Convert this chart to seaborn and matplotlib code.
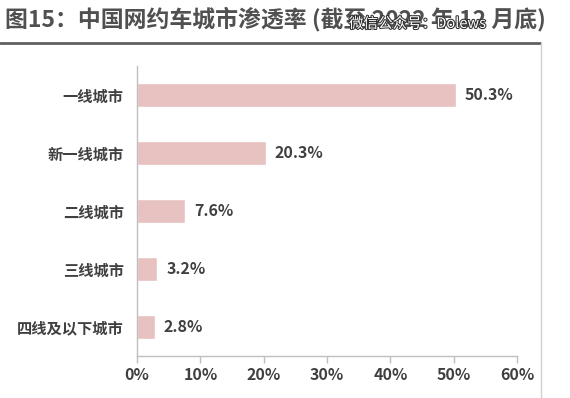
import matplotlib.pyplot as plt
import seaborn as sns
from matplotlib import patheffects

cities = ['一线城市', '新一线城市', '二线城市', '三线城市', '四线及以下城市']
rates = [50.3, 20.3, 7.6, 3.2, 2.8]
xticks = [0, 10, 20, 30, 40, 50, 60]

sns.set_style('white')
plt.rcParams['font.family'] = ['Noto Sans CJK SC', 'DejaVu Sans']

TEXT = '#404040'
GRID = '#BFBFBF'

fig = plt.figure(figsize=(5.7, 3.98), dpi=100)
ax = fig.add_axes([0.2404, 0.106, 0.667, 0.728])

sns.barplot(x=rates, y=cities, color='#E8C1C1', width=0.42, saturation=1, ax=ax, orient='h')

for i, v in enumerate(rates):
    ax.text(v + 1.4, i, f'{v:.1f}%', va='center', ha='left', fontsize=11.5,
            fontweight='bold', color=TEXT)

ax.set_xlim(0, 60)
ax.set_ylim(4.5, -0.5)
ax.set_xticks(xticks)
ax.set_xticklabels([f'{t}%' for t in xticks], fontsize=11.5, fontweight='bold', color=TEXT)
ax.set_yticklabels(cities, fontsize=11, fontweight='bold', color=TEXT)
ax.tick_params(axis='x', bottom=True, length=5, color=GRID, width=1, pad=3)
ax.tick_params(axis='y', left=False, pad=6)

for s in ['top', 'right']:
    ax.spines[s].set_visible(False)
for s in ['left', 'bottom']:
    ax.spines[s].set_color(GRID)
    ax.spines[s].set_linewidth(1)

# title and rule
fig.text(0.008, 0.953, '图15：中国网约车城市渗透率 (截至 2022 年 12 月底)', fontsize=16.5,
         fontweight='bold', color='#505050', va='center', ha='left')
fig.add_artist(plt.Line2D([0, 0.948], [0.893, 0.893], color='#606060', lw=2))
fig.add_artist(plt.Line2D([0.949, 0.949], [0.0, 0.893], color='#D0D0D0', lw=1))

# watermark
wm = fig.text(0.612, 0.94, '微信公众号：Dolews', fontsize=10.5, color='white', va='center', ha='left')
wm.set_path_effects([patheffects.withStroke(linewidth=1.5, foreground='#303030')])

fig.savefig('out.png', dpi=100)
